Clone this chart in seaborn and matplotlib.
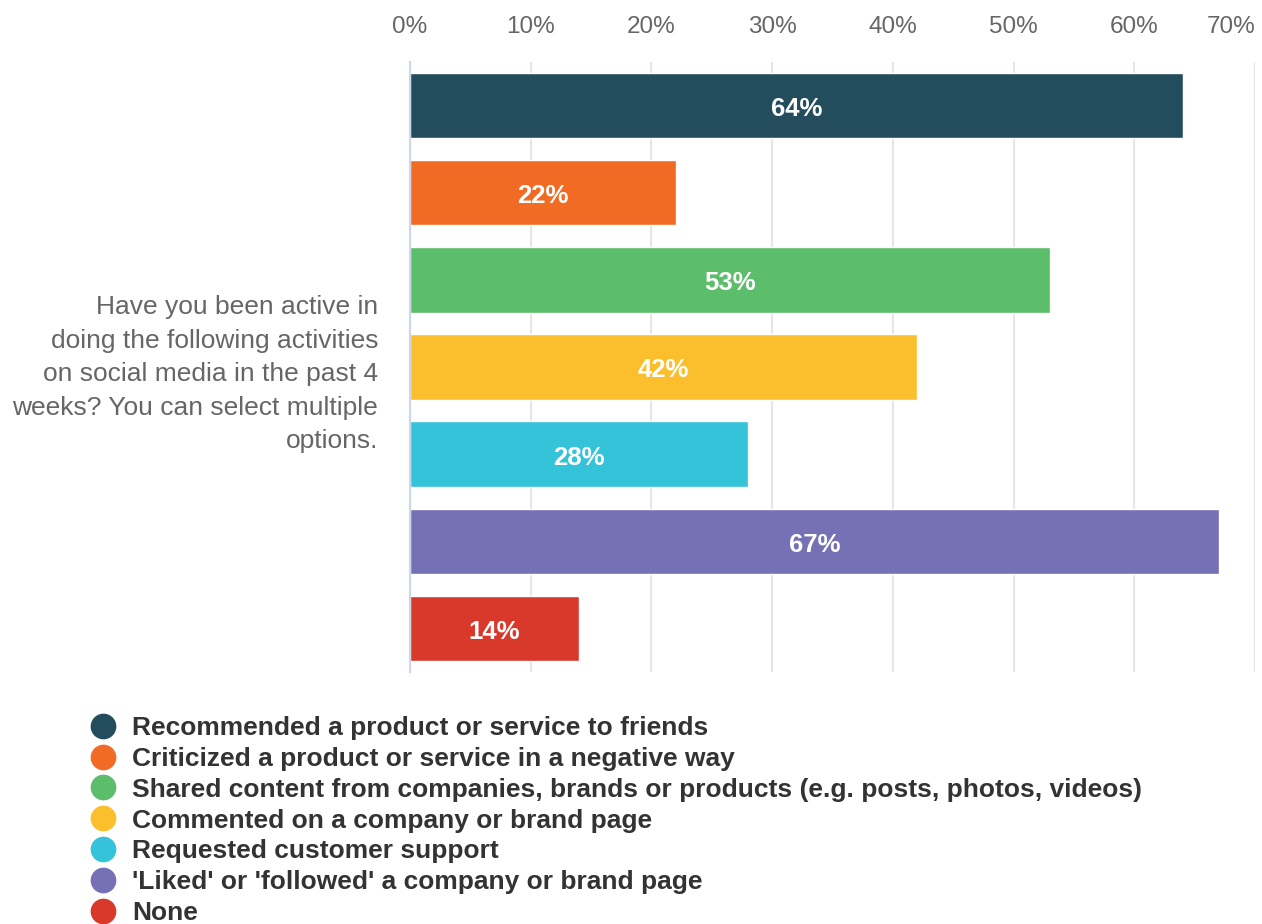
import matplotlib
matplotlib.use("Agg")
import matplotlib.pyplot as plt
from matplotlib.lines import Line2D
import seaborn as sns
import pandas as pd

question = ("Have you been active in\ndoing the following activities\n"
            "on social media in the past 4\nweeks? You can select multiple\noptions.")

activities = [
    "Recommended a product or service to friends",
    "Criticized a product or service in a negative way",
    "Shared content from companies, brands or products (e.g. posts, photos, videos)",
    "Commented on a company or brand page",
    "Requested customer support",
    "'Liked' or 'followed' a company or brand page",
    "None",
]
shares = [64, 22, 53, 42, 28, 67, 14]
colors = ["#234d5c", "#f26b24", "#5cbd6a", "#fbbf2d", "#35c3d9", "#7671b4", "#d9392b"]
x_ticks = [0, 10, 20, 30, 40, 50, 60, 70]
x_tick_labels = ["0%", "10%", "20%", "30%", "40%", "50%", "60%", "70%"]

df = pd.DataFrame({"question": [question] * len(activities),
                   "activity": activities,
                   "share": shares})

sns.set_theme(style="white")
plt.rcParams["font.family"] = ["Liberation Sans", "DejaVu Sans"]

fig = plt.figure(figsize=(12.62, 9.24), dpi=100)
ax = fig.add_axes([410 / 1262, 1 - 672 / 924, 845 / 1262, 610 / 924])

sns.barplot(data=df, x="share", y="question", hue="activity",
            hue_order=activities, palette=colors, saturation=1, orient="h",
            width=1.0, gap=0.25, errorbar=None, legend=False,
            edgecolor="white", linewidth=1, ax=ax)

ax.set_xlim(0, 70)
ax.set_ylim(0.5, -0.5)
ax.set_xlabel("")
ax.set_ylabel("")

# value labels inside each bar, nudged slightly below centre
for cont in ax.containers:
    texts = ax.bar_label(cont, labels=[f"{v:.0f}%" for v in cont.datavalues],
                         label_type="center", color="white", fontsize=18.5,
                         fontweight="bold")
    for t in texts:
        t.xyann = (0, -2.5)

# percent axis along the top
ax.xaxis.tick_top()
ax.set_xticks(x_ticks)
ax.set_xticklabels(x_tick_labels)
ax.tick_params(axis="x", length=0, pad=17, labelsize=17.5, labelcolor="#666666")
ax.get_xticklabels()[-1].set_horizontalalignment("right")
ax.tick_params(axis="y", length=0, pad=23, labelsize=19, labelcolor="#666666")
for lbl in ax.get_yticklabels():
    lbl.set_linespacing(1.5)
    lbl.set_multialignment("right")

ax.set_axisbelow(True)
ax.grid(axis="x", color="#e6e6e6", linewidth=1.5)
ax.grid(axis="y", visible=False)
for side in ["top", "right", "bottom"]:
    ax.spines[side].set_visible(False)
ax.spines["left"].set_color("#ccd6eb")
ax.spines["left"].set_linewidth(1.5)

handles = [Line2D([0], [0], marker="o", linestyle="", markersize=17.5,
                  markerfacecolor=c, markeredgecolor=c) for c in colors]
fig.legend(handles, activities, loc="upper left",
           bbox_to_anchor=(90 / 1262, 1 - 716 / 924), frameon=False,
           prop={"size": 19, "weight": "bold"}, labelcolor="#333333",
           handlelength=1.0, handletextpad=0.6, borderpad=0,
           borderaxespad=0, labelspacing=0.26)

fig.savefig("out.png", dpi=100)
